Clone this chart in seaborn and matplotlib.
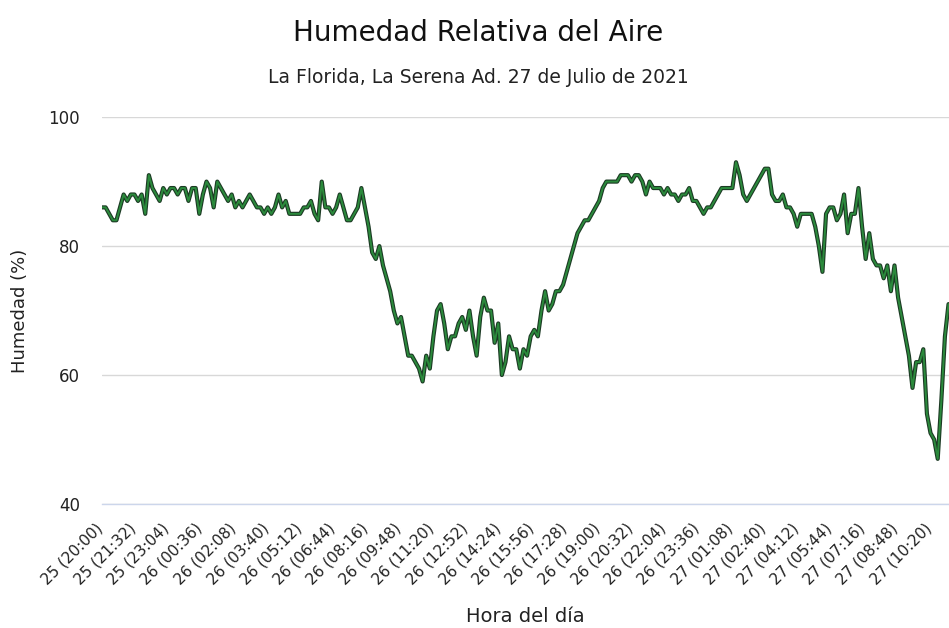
import numpy as np
import pandas as pd
import matplotlib
matplotlib.use("Agg")
import matplotlib.pyplot as plt
import matplotlib.transforms as mtransforms
import seaborn as sns

# Humedad relativa (%) cada 10 minutos desde el 25 (20:00)
humedad = [
    86, 86, 85, 84, 84, 86, 88, 87, 88, 88, 87, 88, 85, 91, 89, 88, 87, 89, 88, 89,
    89, 88, 89, 89, 87, 89, 89, 85, 88, 90, 89, 86, 90, 89, 88, 87, 88, 86, 87, 86,
    87, 88, 87, 86, 86, 85, 86, 85, 86, 88, 86, 87, 85, 85, 85, 85, 86, 86, 87, 85,
    84, 90, 86, 86, 85, 86, 88, 86, 84, 84, 85, 86, 89, 86, 83,
    79, 78, 80, 77, 75, 73, 70, 68, 69, 66, 63, 63, 62, 61, 59, 63, 61, 66, 70, 71,
    68, 64, 66, 66, 68, 69, 67, 70, 66, 63, 69, 72, 70, 70, 65, 68, 60, 62, 66, 64,
    64, 61, 64, 63,
    66, 67, 66, 70, 73, 70, 71, 73, 73, 74, 76, 78, 80, 82, 83, 84, 84, 85, 86, 87,
    89, 90, 90, 90, 90, 91, 91, 91, 90, 91, 91, 90, 88, 90, 89, 89, 89, 88, 89,
    88, 88, 87, 88, 88, 89, 87, 87, 86, 85, 86, 86, 87, 88, 89, 89, 89, 89, 93, 91,
    88, 87, 88, 89, 90, 91, 92, 92, 88, 87, 87, 88, 86, 86, 85, 83, 85, 85,
    85, 85, 83, 80, 76, 85, 86, 86, 84, 85, 88, 82, 85, 85, 89, 83, 78, 82, 78, 77,
    77, 75, 77, 73, 77, 72, 69, 66, 63, 58, 62, 62, 64, 54, 51, 50, 47, 56, 66, 71,
]

tick_labels = [
    "25 (20:00)", "25 (21:32)", "25 (23:04)", "26 (00:36)", "26 (02:08)",
    "26 (03:40)", "26 (05:12)", "26 (06:44)", "26 (08:16)", "26 (09:48)",
    "26 (11:20)", "26 (12:52)", "26 (14:24)", "26 (15:56)", "26 (17:28)",
    "26 (19:00)", "26 (20:32)", "26 (22:04)", "26 (23:36)", "27 (01:08)",
    "27 (02:40)", "27 (04:12)", "27 (05:44)", "27 (07:16)", "27 (08:48)",
    "27 (10:20)",
]
y_ticks = [40, 60, 80, 100]

# minutos desde el inicio
df = pd.DataFrame({
    "minuto": np.arange(len(humedad)) * 10,
    "humedad": humedad,
})
tick_pos = np.arange(len(tick_labels)) * 92

sns.set_theme(style="white")
plt.rcParams["font.family"] = ["DejaVu Sans"]

fig = plt.figure(figsize=(9.49, 6.28), dpi=100)
ax = fig.add_axes([0.1075, 0.1975, 0.892, 0.616])

sns.lineplot(data=df, x="minuto", y="humedad", ax=ax, color="#1c3a24",
             linewidth=3.0, zorder=3)
sns.lineplot(data=df, x="minuto", y="humedad", ax=ax, color="#2b8a3c",
             linewidth=1.4, zorder=4)

ax.set_xlim(df["minuto"].iloc[0], df["minuto"].iloc[-1])
ax.set_ylim(40, 100)
ax.set_yticks(y_ticks)
ax.set_yticklabels([str(v) for v in y_ticks], fontsize=12, color="#222222")
ax.set_xticks(tick_pos)
ax.set_xticklabels(tick_labels, rotation=45, ha="right", rotation_mode="anchor",
                   fontsize=11, color="#222222")

ax.grid(axis="y", color="#d8d8d8", linewidth=1)
ax.grid(axis="x", visible=False)
for side in ["top", "right", "left"]:
    ax.spines[side].set_visible(False)
ax.spines["bottom"].set_color("#ccd6eb")
ax.spines["bottom"].set_linewidth(1)
ax.tick_params(axis="x", direction="out", length=10, width=1, color="#ccd6eb", pad=2)
ax.tick_params(axis="y", length=0, pad=16)

# labels end slightly left of their tick, as in the original
# (after tick_params, which resets label transforms)
shift = mtransforms.ScaledTranslation(-7 / 100, 0, fig.dpi_scale_trans)
for lbl in ax.get_xticklabels():
    lbl.set_transform(lbl.get_transform() + shift)

ax.set_xlabel("Hora del día", fontsize=14, color="#222222", labelpad=14)
ax.set_ylabel("Humedad (%)", fontsize=13, color="#222222", labelpad=14)

fig.text(0.504, 0.947, "Humedad Relativa del Aire", ha="center", va="center",
         fontsize=20, color="#111111")
fig.text(0.504, 0.877, "La Florida, La Serena Ad. 27 de Julio de 2021",
         ha="center", va="center", fontsize=13.5, color="#222222")

fig.savefig("out.png", dpi=100)
